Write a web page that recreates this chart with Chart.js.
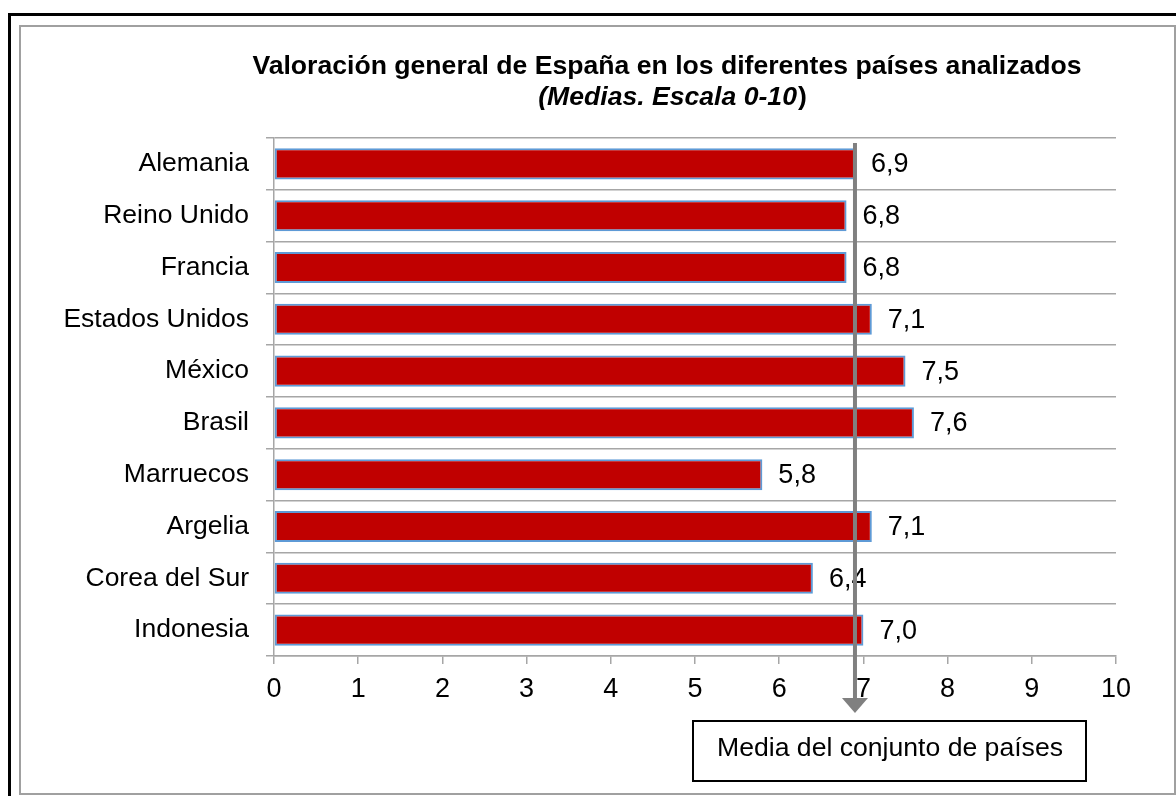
<!DOCTYPE html>
<html>
<head>
<meta charset="utf-8">
<script src="https://cdn.jsdelivr.net/npm/chart.js@4"></script>
<style>
  html, body { margin: 0; padding: 0; background: #fff; }
  #wrap { width: 1176px; height: 796px; }
</style>
</head>
<body>
<div id="wrap"><canvas id="chart" width="1176" height="796"></canvas></div>
<script>
const countries = ["Alemania", "Reino Unido", "Francia", "Estados Unidos", "México",
  "Brasil", "Marruecos", "Argelia", "Corea del Sur", "Indonesia"];
const scores = [6.9, 6.8, 6.8, 7.1, 7.5, 7.6, 5.8, 7.1, 6.4, 7.0];
const xTicks = [0, 1, 2, 3, 4, 5, 6, 7, 8, 9, 10];

const titleLine1 = "Valoración general de España en los diferentes países analizados";
const subtitleInner = "Medias. Escala 0-10";
const meanLabel = "Media del conjunto de países";

const FONT = '"Liberation Sans", Arial, sans-serif';
const GRID = "#A6A6A6";

// mean over all countries -> where the arrow goes
const mean = scores.reduce((a, b) => a + b, 0) / scores.length;

const fmt = v => v.toFixed(1).replace(".", ",");

// frame + title
const framePlugin = {
  id: "frame",
  beforeDraw(chart) {
    const ctx = chart.ctx;
    ctx.save();
    ctx.fillStyle = "#fff";
    ctx.fillRect(0, 0, chart.width, chart.height);

    ctx.strokeStyle = "#000";
    ctx.lineWidth = 3;
    ctx.beginPath();
    ctx.moveTo(9.5, chart.height);
    ctx.lineTo(9.5, 14.5);
    ctx.lineTo(chart.width, 14.5);
    ctx.stroke();

    ctx.strokeStyle = "#A0A0A0";
    ctx.lineWidth = 2;
    ctx.strokeRect(20, 26, 1155, 768);

    ctx.fillStyle = "#000";
    ctx.textBaseline = "alphabetic";
    ctx.textAlign = "center";
    ctx.font = "bold 26.6px " + FONT;
    ctx.fillText(titleLine1, 667, 74);

    // second line: "(Medias. Escala 0-10)" with italic inside
    const partA = "(" + subtitleInner;
    const partB = ")";
    ctx.font = "italic bold 26.6px " + FONT;
    const wA = ctx.measureText(partA).width;
    ctx.font = "bold 26.6px " + FONT;
    const wB = ctx.measureText(partB).width;
    let x0 = 672 - (wA + wB) / 2;
    ctx.textAlign = "left";
    ctx.font = "italic bold 26.6px " + FONT;
    ctx.fillText(partA, x0, 105);
    ctx.font = "bold 26.6px " + FONT;
    ctx.fillText(partB, x0 + wA + 1, 105);
    ctx.restore();
  }
};

// value labels, mean arrow and its caption box
const overlayPlugin = {
  id: "overlay",
  afterDatasetsDraw(chart) {
    const ctx = chart.ctx;
    const meta = chart.getDatasetMeta(0);
    ctx.save();
    ctx.fillStyle = "#000";
    ctx.font = "27px " + FONT;
    ctx.textAlign = "left";
    ctx.textBaseline = "middle";
    meta.data.forEach((bar, i) => {
      ctx.fillText(fmt(scores[i]), bar.x + 16, bar.y + 1);
    });

    const area = chart.chartArea;
    const mx = chart.scales.x.getPixelForValue(mean);
    const top = area.top + 5;
    const tip = area.bottom + 57;
    ctx.strokeStyle = "#808080";
    ctx.fillStyle = "#808080";
    ctx.lineWidth = 4;
    ctx.beginPath();
    ctx.moveTo(mx, top);
    ctx.lineTo(mx, tip - 14);
    ctx.stroke();
    ctx.beginPath();
    ctx.moveTo(mx - 13, tip - 15);
    ctx.lineTo(mx + 13, tip - 15);
    ctx.lineTo(mx, tip);
    ctx.closePath();
    ctx.fill();

    ctx.fillStyle = "#fff";
    ctx.fillRect(693, 721, 393, 60);
    ctx.strokeStyle = "#000";
    ctx.lineWidth = 2;
    ctx.strokeRect(693, 721, 393, 60);
    ctx.fillStyle = "#000";
    ctx.textAlign = "center";
    ctx.textBaseline = "middle";
    ctx.font = "26.6px " + FONT;
    ctx.fillText(meanLabel, 890, 749);
    ctx.restore();
  }
};

new Chart(document.getElementById("chart"), {
  type: "bar",
  data: {
    labels: countries,
    datasets: [{
      data: scores,
      backgroundColor: "#C00000",
      borderColor: "#5E9AD6",
      borderWidth: 2,
      borderSkipped: false,
      barPercentage: 0.6,
      categoryPercentage: 1
    }]
  },
  options: {
    indexAxis: "y",
    responsive: false,
    animation: false,
    layout: { padding: { left: 0, top: 138, right: 60, bottom: 0 } },
    plugins: {
      legend: { display: false },
      title: { display: false },
      tooltip: { enabled: false }
    },
    scales: {
      x: {
        min: xTicks[0],
        max: xTicks[xTicks.length - 1],
        afterBuildTicks: s => { s.ticks = xTicks.map(v => ({ value: v })); },
        afterFit: s => { s.height = 140; },
        grid: { drawOnChartArea: false, drawTicks: true, tickLength: 8, color: GRID, lineWidth: 1.5 },
        border: { display: true, color: GRID, width: 1.5 },
        ticks: { color: "#000", font: { family: FONT, size: 27 }, padding: 9, maxRotation: 0 }
      },
      y: {
        afterFit: s => { s.width = 274; },
        grid: { offset: true, color: GRID, lineWidth: 1.5, tickLength: 8 },
        border: { display: true, color: GRID, width: 1.5 },
        ticks: { color: "#000", font: { family: FONT, size: 26.5 }, padding: 17 }
      }
    }
  },
  plugins: [framePlugin, overlayPlugin]
});
</script>
</body>
</html>
